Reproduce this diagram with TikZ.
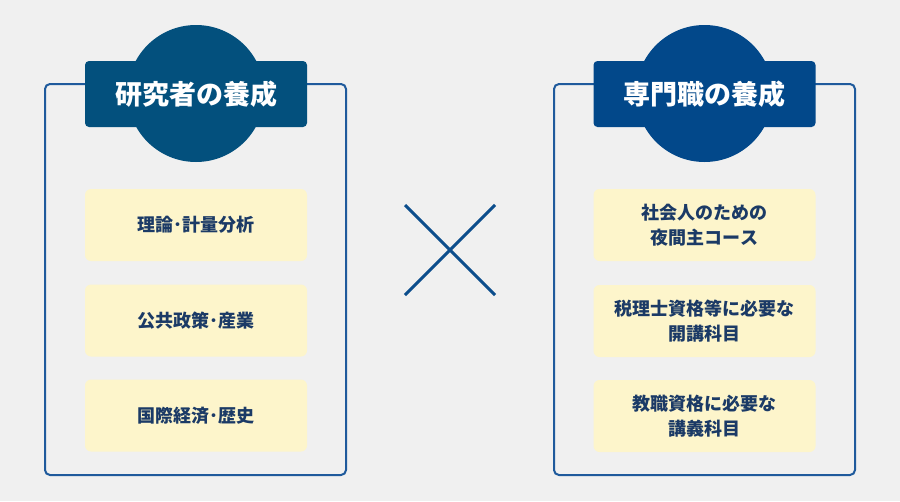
\documentclass[tikz,border=0pt]{standalone}
\usepackage{fontspec}
\setmainfont{Noto Sans CJK JP}
\definecolor{bgc}{HTML}{F0F0F0}
\definecolor{framec}{HTML}{1F5A9C}
\definecolor{titlel}{HTML}{03507D}
\definecolor{titler}{HTML}{02488A}
\definecolor{itemc}{HTML}{FDF5CB}
\definecolor{textc}{HTML}{1B3A66}
\definecolor{crossc}{HTML}{0B4D8C}
\begin{document}
\begin{tikzpicture}[x=1pt,y=-1pt,
  panel/.style={draw=framec, line width=2pt, rounded corners=5pt, minimum width=301pt, minimum height=391pt, inner sep=0pt},
  disc/.style={circle, minimum size=137pt, inner sep=0pt},
  titlebox/.style={rounded corners=4pt, minimum width=222pt, minimum height=66pt, inner sep=0pt, text=white, font=\bfseries\fontsize{27}{32}\selectfont},
  itembox/.style={fill=itemc, rounded corners=6pt, minimum width=222pt, minimum height=72pt, inner sep=0pt, align=center, text=textc, font=\bfseries\fontsize{18}{25}\selectfont},
  crossline/.style={draw=crossc, line width=3pt}]
\fill[bgc] (0,0) rectangle (900,501);
\useasboundingbox (0,0) rectangle (900,501);
% left panel
\node[panel] (lframe) at (195.5,279.5) {};
\node[disc, fill=titlel] (lcircle) at (196,93.5) {};
\node[titlebox, fill=titlel] (ltitle) at (196,94) {研究者の養成};
\node[itembox] (l1) at (196,225) {理論･計量分析};
\node[itembox] (l2) at (196,320.5) {公共政策･産業};
\node[itembox] (l3) at (196,415.5) {国際経済･歴史};
% right panel
\node[panel] (rframe) at (704.5,279.5) {};
\node[disc, fill=titler] (rcircle) at (704.5,93.5) {};
\node[titlebox, fill=titler] (rtitle) at (704.5,94) {専門職の養成};
\node[itembox] (r1) at (704.5,225) {社会人のための\\夜間主コース};
\node[itembox] (r2) at (704.5,321) {税理士資格等に必要な\\開講科目};
\node[itembox] (r3) at (704.5,416) {教職資格に必要な\\講義科目};
% cross
\coordinate (ca) at (405,205);
\coordinate (cb) at (495,295);
\coordinate (cc) at (495,205);
\coordinate (cd) at (405,295);
\draw[crossline] (ca) -- (cb);
\draw[crossline] (cc) -- (cd);
\end{tikzpicture}
\end{document}
